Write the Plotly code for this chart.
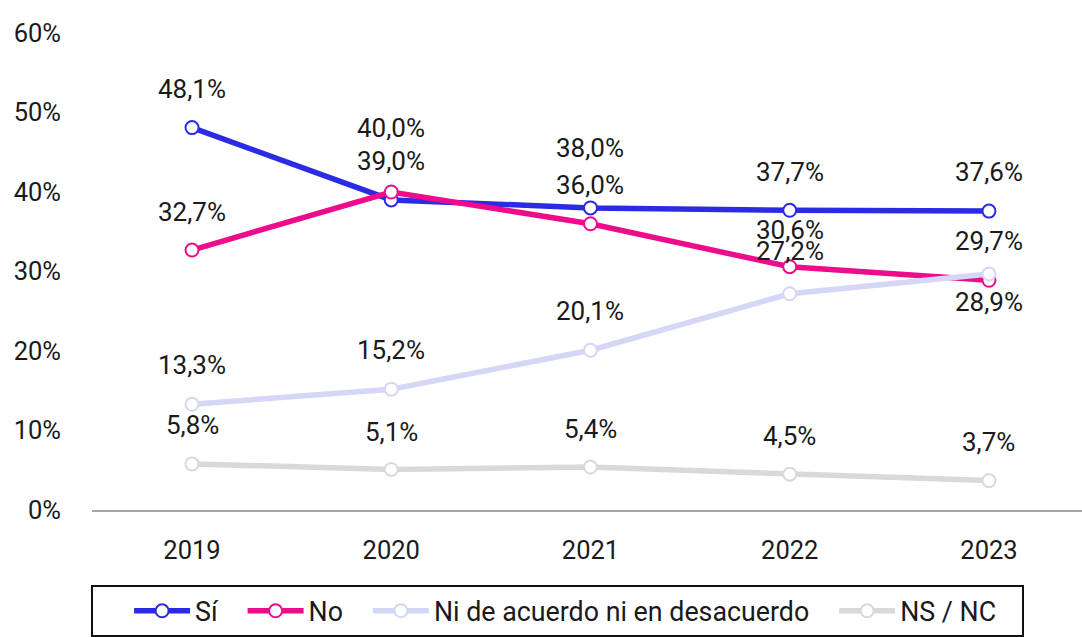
import plotly.graph_objects as go

years = [2019, 2020, 2021, 2022, 2023]
series_names = ["Sí", "No", "Ni de acuerdo ni en desacuerdo", "NS / NC"]
si = [48.1, 39.0, 38.0, 37.7, 37.6]
no = [32.7, 40.0, 36.0, 30.6, 28.9]
ni = [13.3, 15.2, 20.1, 27.2, 29.7]
nsnc = [5.8, 5.1, 5.4, 4.5, 3.7]
y_ticks = [0, 10, 20, 30, 40, 50, 60]

colors = ["#2B2BE3", "#EC0C8C", "#D6D6F7", "#D9D9D9"]
values = [si, no, ni, nsnc]
# label vertical offsets in px (style)
label_shift = [
    [39, 39, 60, 38, 39],
    [38, 64, 39, 37, -22],
    [39, 39, 39, 43, 33],
    [39, 37, 38, 38, 39],
]

FONT = "Roboto"
TXT = "#1a1a1a"
PAD = "\u00a0" * 3
fig = go.Figure()
for i, (name, vals, col) in enumerate(zip(series_names, values, colors)):
    fig.add_trace(go.Scatter(
        x=years, y=vals, name=name + PAD, mode="lines+markers",
        line=dict(color=col, width=5.5),
        marker=dict(symbol="circle", size=13, color="white",
                    line=dict(color=col, width=2)),
        hoverinfo="skip",
    ))

for vals, shifts in zip(values, label_shift):
    for x, v, s in zip(years, vals, shifts):
        fig.add_annotation(
            x=x, y=v, text=f"{v:.1f}%".replace(".", ","),
            showarrow=False, yshift=s, xanchor="center", yanchor="middle",
            font=dict(family=FONT, size=26, color=TXT),
        )

fig.update_layout(
    width=1082, height=637,
    margin=dict(l=92, r=0, t=33, b=127),
    paper_bgcolor="white", plot_bgcolor="white",
    font=dict(family=FONT, size=25.5, color=TXT),
    showlegend=True,
    legend=dict(
        orientation="h", x=0.4697, xanchor="center", y=-0.157, yanchor="top",
        bordercolor="#111111", borderwidth=2, bgcolor="white",
        font=dict(family=FONT, size=26.8, color=TXT),
        itemwidth=56,
        title=dict(text="\u00a0" * 4, side="left",
                   font=dict(family=FONT, size=26.8, color=TXT)),
    ),
)
fig.update_xaxes(
    range=[2018.498, 2023.467], tickvals=years, ticktext=[str(y) for y in years],
    showgrid=False, zeroline=False, showline=True, linecolor="#A6A6A6", linewidth=2,
    ticks="", ticklabelstandoff=16, tickfont=dict(family=FONT, size=25.5, color=TXT),
)
fig.update_yaxes(
    range=[0, 60], tickvals=y_ticks, ticktext=[f"{t}%" for t in y_ticks],
    showgrid=False, zeroline=False, showline=False, ticks="",
    ticklabelstandoff=30, tickfont=dict(family=FONT, size=25.5, color=TXT),
)

fig.write_html("out.html", config={"displayModeBar": False},
               post_script="document.body.style.margin='0';")
